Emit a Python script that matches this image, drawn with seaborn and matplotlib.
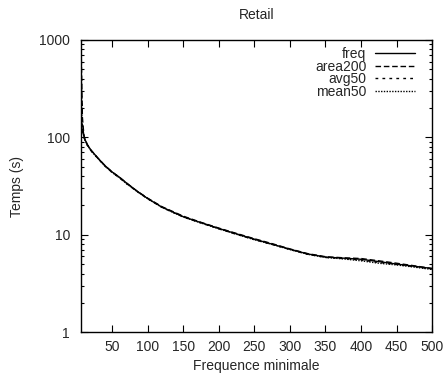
import matplotlib
matplotlib.use("Agg")
import matplotlib.pyplot as plt
import numpy as np
import pandas as pd
import seaborn as sns
from matplotlib.ticker import LogLocator, NullFormatter, FixedLocator

x_vals = [6, 7, 8, 10, 11, 15, 20, 30, 40, 50, 60, 70, 85, 100, 120, 150, 175, 200,
          225, 250, 275, 300, 325, 350, 375, 400, 425, 450, 475, 500]
freq = [160, 125, 115, 105, 97, 84, 74, 61, 51, 44, 39, 34, 28, 23.5, 19.2, 15.3, 13.3, 11.6,
        10.2, 9.0, 8.0, 7.1, 6.35, 5.9, 5.75, 5.6, 5.3, 5.0, 4.75, 4.5]
area200 = [950, 400, 160, 107, 98, 84, 74, 61, 51, 44, 39, 34, 28, 23.7, 19.4, 15.5, 13.4, 11.7,
           10.3, 9.1, 8.1, 7.15, 6.4, 5.95, 5.8, 5.7, 5.4, 5.1, 4.8, 4.5]
avg50 = [600, 250, 135, 104, 96, 83, 73, 60.5, 50.5, 43.5, 38.5, 33.5, 27.8, 23.4, 19.1, 15.2, 13.2, 11.5,
         10.1, 8.9, 7.95, 7.05, 6.3, 5.85, 5.7, 5.5, 5.2, 4.95, 4.7, 4.45]
mean50 = [350, 180, 122, 103, 96, 83, 73, 60.5, 50.5, 43.5, 38.5, 33.5, 27.8, 23.4, 19.1, 15.2, 13.2, 11.5,
          10.1, 8.9, 7.95, 7.05, 6.3, 5.85, 5.65, 5.4, 5.1, 4.9, 4.65, 4.4]
series_names = ["freq", "area200", "avg50", "mean50"]

df = pd.DataFrame({
    "x": x_vals * 4,
    "y": freq + area200 + avg50 + mean50,
    "serie": np.repeat(series_names, len(x_vals)),
})

sns.set_style("ticks")
plt.rcParams["font.family"] = ["Liberation Sans", "DejaVu Sans"]
fs = 10
plt.rcParams["font.size"] = fs

fig = plt.figure(figsize=(4.45, 3.77), dpi=100)
ax = fig.add_axes([0.182, 0.119, 0.789, 0.775])

dashes = {"freq": "", "area200": (4, 2), "avg50": (2, 3), "mean50": (1, 1)}
sns.lineplot(data=df, x="x", y="y", hue="serie", style="serie",
             palette=["black"] * 4, dashes=dashes, linewidth=1.0, ax=ax)

ax.set_yscale("log")
ax.set_xlim(6, 500)
ax.set_ylim(1, 1000)
ax.xaxis.set_major_locator(FixedLocator(list(range(50, 501, 50))))
ax.yaxis.set_major_locator(FixedLocator([1, 10, 100, 1000]))
ax.set_yticklabels(["1", "10", "100", "1000"])
ax.yaxis.set_minor_locator(LogLocator(base=10, subs=np.arange(2, 10)))
ax.yaxis.set_minor_formatter(NullFormatter())
ax.tick_params(which="both", direction="in", top=True, right=True, color="black",
               labelsize=fs)
ax.tick_params(axis="x", pad=6)
ax.tick_params(axis="y", pad=8)
ax.tick_params(which="major", length=5, width=0.8)
ax.tick_params(which="minor", length=2.5, width=0.8)
for s in ax.spines.values():
    s.set_linewidth(1.0)
    s.set_color("black")

ax.set_xlabel("Frequence minimale", fontsize=fs, labelpad=3)
ax.set_ylabel("Temps (s)", fontsize=fs, labelpad=11)
ax.set_title("Retail", fontsize=fs, pad=15)

leg = ax.legend(frameon=False, loc="upper right", bbox_to_anchor=(0.9516, 0.976),
                markerfirst=False, handlelength=2.9, fontsize=fs, labelspacing=-0.1,
                borderaxespad=0, borderpad=0, handletextpad=0.6)
for t in leg.get_texts():
    t.set_ha("right")
leg._legend_box.align = "right"

fig.savefig("out.png", dpi=100)
